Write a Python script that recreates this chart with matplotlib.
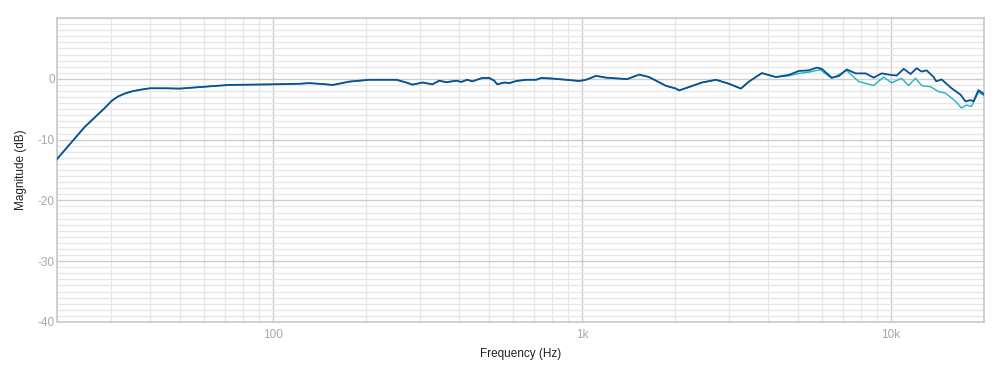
import numpy as np
import matplotlib
matplotlib.use('Agg')
import matplotlib.pyplot as plt
from matplotlib.ticker import FixedLocator, NullFormatter

# frequency response, dark curve (Hz, dB)
freq_a = [20, 24.6, 28.4, 30.1, 31.5, 33.2, 35, 37.1, 40, 44.7, 50, 58, 72, 100, 122, 131, 145, 156,
          177, 205, 251, 270, 283, 305, 328, 345, 364, 392, 407, 425, 442, 476, 501, 520,
          532, 561, 582, 613, 660, 711, 738, 801, 889, 979, 1031, 1111, 1197, 1319, 1400,
          1531, 1648, 1871, 2015, 2061, 2219, 2446, 2714, 2988, 3269, 3468, 3821, 4240,
          4671, 5033, 5420, 5755, 5973, 6430, 6777, 7193, 7690, 8283, 8793, 9333, 9977,
          10430, 10990, 11576, 12107, 12566, 13040, 13743, 14000, 14587, 15710, 16790,
          17424, 18080, 18500, 19190, 20000]
mag_a = [-13.2, -7.9, -4.9, -3.6, -2.9, -2.4, -2.05, -1.8, -1.55, -1.55, -1.6, -1.35, -1.0, -0.9, -0.8,
         -0.7, -0.85, -1.0, -0.45, -0.15, -0.15, -0.6, -0.95, -0.6, -0.9, -0.3, -0.55, -0.3,
         -0.5, -0.15, -0.4, 0.15, 0.15, -0.3, -0.9, -0.6, -0.7, -0.35, -0.15, -0.15, 0.15,
         0.05, -0.15, -0.35, -0.15, 0.5, 0.2, 0.05, -0.05, 0.7, 0.3, -1.15, -1.6, -1.9,
         -1.35, -0.6, -0.15, -0.8, -1.6, -0.45, 0.95, 0.3, 0.65, 1.3, 1.4, 1.85, 1.65, 0.2,
         0.45, 1.55, 0.9, 0.9, 0.2, 0.9, 0.65, 0.55, 1.65, 0.8, 1.75, 1.2, 1.4, 0.3, -0.4,
         -0.1, -1.55, -2.6, -3.7, -3.5, -3.7, -1.85, -2.5]

# teal curve: follows the dark one up to ~4.2 kHz, then its own values
split = freq_a.index(4240) + 1
freq_b_high = [4671, 5033, 5420, 5900, 6430, 7193, 7864, 8793, 9465, 10050, 10820, 11400,
               12010, 12566, 13430, 14260, 15020, 16180, 16920, 17550, 18220, 19190, 20000]
mag_b_high = [0.5, 0.9, 1.1, 1.5, 0.1, 1.4, -0.45, -1.1, 0.3, -0.65, 0.1, -1.1, 0.1, -1.1,
              -1.3, -2.1, -2.35, -3.7, -4.8, -4.3, -4.55, -2.2, -2.75]
freq_b = freq_a[:split] + freq_b_high
mag_b = mag_a[:split] + mag_b_high

x_ticks = [100, 1000, 10000]
x_labels = ['100', '1k', '10k']
y_ticks = [-40, -30, -20, -10, 0]

plt.rcParams['font.family'] = ['Liberation Sans', 'DejaVu Sans']
plt.rcParams['axes.unicode_minus'] = False

fig = plt.figure(figsize=(10, 3.77), dpi=100)
ax = fig.add_axes([0.057, 0.146, 0.927, 0.806])

ax.plot(freq_b, mag_b, color='#25b3b8', lw=1.0, zorder=3)
ax.plot(freq_a, mag_a, color='#0b4f94', lw=1.3, zorder=4)

ax.set_xscale('log')
ax.set_xlim(20, 20000)
ax.set_ylim(-40, 10)

minor_x = [m * 10 ** d for d in range(1, 5) for m in range(2, 10) if 20 <= m * 10 ** d <= 20000]
ax.xaxis.set_major_locator(FixedLocator(x_ticks))
ax.xaxis.set_minor_locator(FixedLocator(minor_x))
ax.set_xticklabels(x_labels)
ax.xaxis.set_minor_formatter(NullFormatter())
ax.set_yticks(y_ticks)
ax.yaxis.set_minor_locator(FixedLocator(np.arange(-40, 11, 1)))

ax.grid(which='major', color='#cccccc', lw=1.0, zorder=1)
ax.grid(which='minor', color='#e6e6e6', lw=0.9, zorder=0)
ax.set_axisbelow(True)

ax.tick_params(which='both', length=0)
ax.tick_params(axis='x', pad=5, labelsize=8.5, labelcolor='#a8a8a8')
ax.tick_params(axis='y', pad=1.5, labelsize=8.5, labelcolor='#a8a8a8')
for s in ax.spines.values():
    s.set_color('#c8c8c8')
    s.set_linewidth(1.2)

ax.set_xlabel('Frequency (Hz)', fontsize=8.5, color='#222222', labelpad=5)
ax.set_ylabel('Magnitude (dB)', fontsize=8.5, color='#222222', labelpad=8)

fig.savefig('out.png', dpi=100, facecolor='white')
